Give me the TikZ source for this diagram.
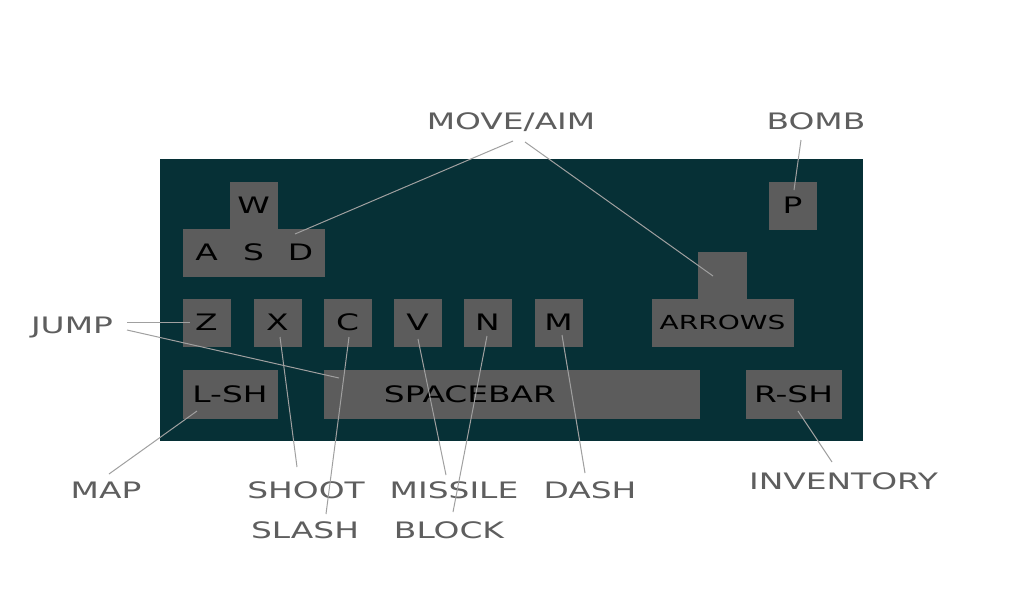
\documentclass[tikz,border=0pt]{standalone}
\usepackage{fontspec}
\newfontfamily\pixfont[FakeStretch=1.45]{DejaVu Sans}
\definecolor{panelc}{HTML}{063036}
\definecolor{keyc}{HTML}{5C5C5C}
\definecolor{labc}{HTML}{5E5E5E}
\definecolor{linec}{HTML}{A0A0A0}
\begin{document}
\begin{tikzpicture}[x=0.75pt,y=-0.75pt,
  key/.style={fill=keyc, draw=keyc, line width=0.2pt, inner sep=0pt, text depth=0pt,
    font=\pixfont\fontsize{17}{17}\selectfont, text=black},
  ksz/.style 2 args={minimum width=#1*0.75pt, minimum height=#2*0.75pt},
  ktext/.style={inner sep=0pt, text depth=0pt, font=\pixfont\fontsize{17}{17}\selectfont, text=black},
  lab/.style={inner sep=0pt, text depth=0pt, font=\pixfont\fontsize{17}{17}\selectfont, text=labc},
  conn/.style={draw=linec, line width=0.75pt}]
\useasboundingbox (0,0) rectangle (1024,600);
\fill[white] (0,0) rectangle (1024,600);
% panel
\node[fill=panelc, inner sep=0pt, ksz={703}{282}] (panel) at (511.5,300) {};
% keys
\node[key, ksz={47}{47}] (w) at (253.5,205.5) {W};
\node[key, ksz={47}{47}] (a) at (206.5,252.5) {A};
\node[key, ksz={47}{47}] (s) at (253.5,252.5) {S};
\node[key, ksz={47}{47}] (d) at (300.5,252.5) {D};
\node[key, ksz={47}{47}] (z) at (206.5,322.5) {Z};
\node[key, ksz={47}{47}] (x) at (277.5,322.5) {X};
\node[key, ksz={47}{47}] (c) at (347.5,322.5) {C};
\node[key, ksz={47}{47}] (v) at (417.5,322.5) {V};
\node[key, ksz={47}{47}] (n) at (487.5,322.5) {N};
\node[key, ksz={47}{47}] (m) at (558.5,322.5) {M};
\node[key, ksz={47}{47}] (p) at (792.5,205.5) {P};
\node[key, ksz={48}{47}] (arrtop) at (722,276) {};
\node[key, ksz={141}{47}, font=\pixfont\fontsize{14.5}{14.5}\selectfont] (arrows) at (722.5,322.5) {ARROWS};
\node[key, ksz={94}{48}] (lsh) at (230,394) {L-SH};
\node[key, ksz={375}{48}] (space) at (511.5,394) {};
\node[ktext] (spacetxt) at (470,394) {SPACEBAR};
\node[key, ksz={95}{48}] (rsh) at (793.5,394) {R-SH};
% labels
\node[lab] (move) at (511,121) {MOVE/AIM};
\node[lab] (bomb) at (816,121) {BOMB};
\node[lab] (jump) at (72,325) {JUMP};
\node[lab] (map) at (106,490) {MAP};
\node[lab] (shoot) at (306,490) {SHOOT};
\node[lab] (slash) at (305,530) {SLASH};
\node[lab] (missile) at (454,490) {MISSILE};
\node[lab] (block) at (449,530) {BLOCK};
\node[lab] (dash) at (590,490) {DASH};
\node[lab] (inv) at (843.5,481) {INVENTORY};
% connector ends
\coordinate (mv1) at (513,141); \coordinate (dEnd) at (295,234);
\coordinate (mv2) at (525,142); \coordinate (arEnd) at (713,276);
\coordinate (bmS) at (801,140); \coordinate (pEnd) at (794,190);
\coordinate (jp1) at (127,322); \coordinate (zEnd) at (190,322);
\coordinate (jp2) at (127,330); \coordinate (spEnd) at (339,378);
\coordinate (mpS) at (109,474); \coordinate (lEnd) at (197,411);
\coordinate (shS) at (297,467); \coordinate (xEnd) at (280,337);
\coordinate (slS) at (326,514); \coordinate (cEnd) at (349,337);
\coordinate (miS) at (446,475); \coordinate (vEnd) at (418,339);
\coordinate (blS) at (453,512); \coordinate (nEnd) at (487,336);
\coordinate (daS) at (585,473); \coordinate (mEnd) at (562,335);
\coordinate (ivS) at (832,462); \coordinate (rEnd) at (798,411);
% connectors
\draw[conn] (mv1) -- (dEnd);
\draw[conn] (mv2) -- (arEnd);
\draw[conn] (bmS) -- (pEnd);
\draw[conn] (jp1) -- (zEnd);
\draw[conn] (jp2) -- (spEnd);
\draw[conn] (mpS) -- (lEnd);
\draw[conn] (shS) -- (xEnd);
\draw[conn] (slS) -- (cEnd);
\draw[conn] (miS) -- (vEnd);
\draw[conn] (blS) -- (nEnd);
\draw[conn] (daS) -- (mEnd);
\draw[conn] (ivS) -- (rEnd);
\end{tikzpicture}
\end{document}
